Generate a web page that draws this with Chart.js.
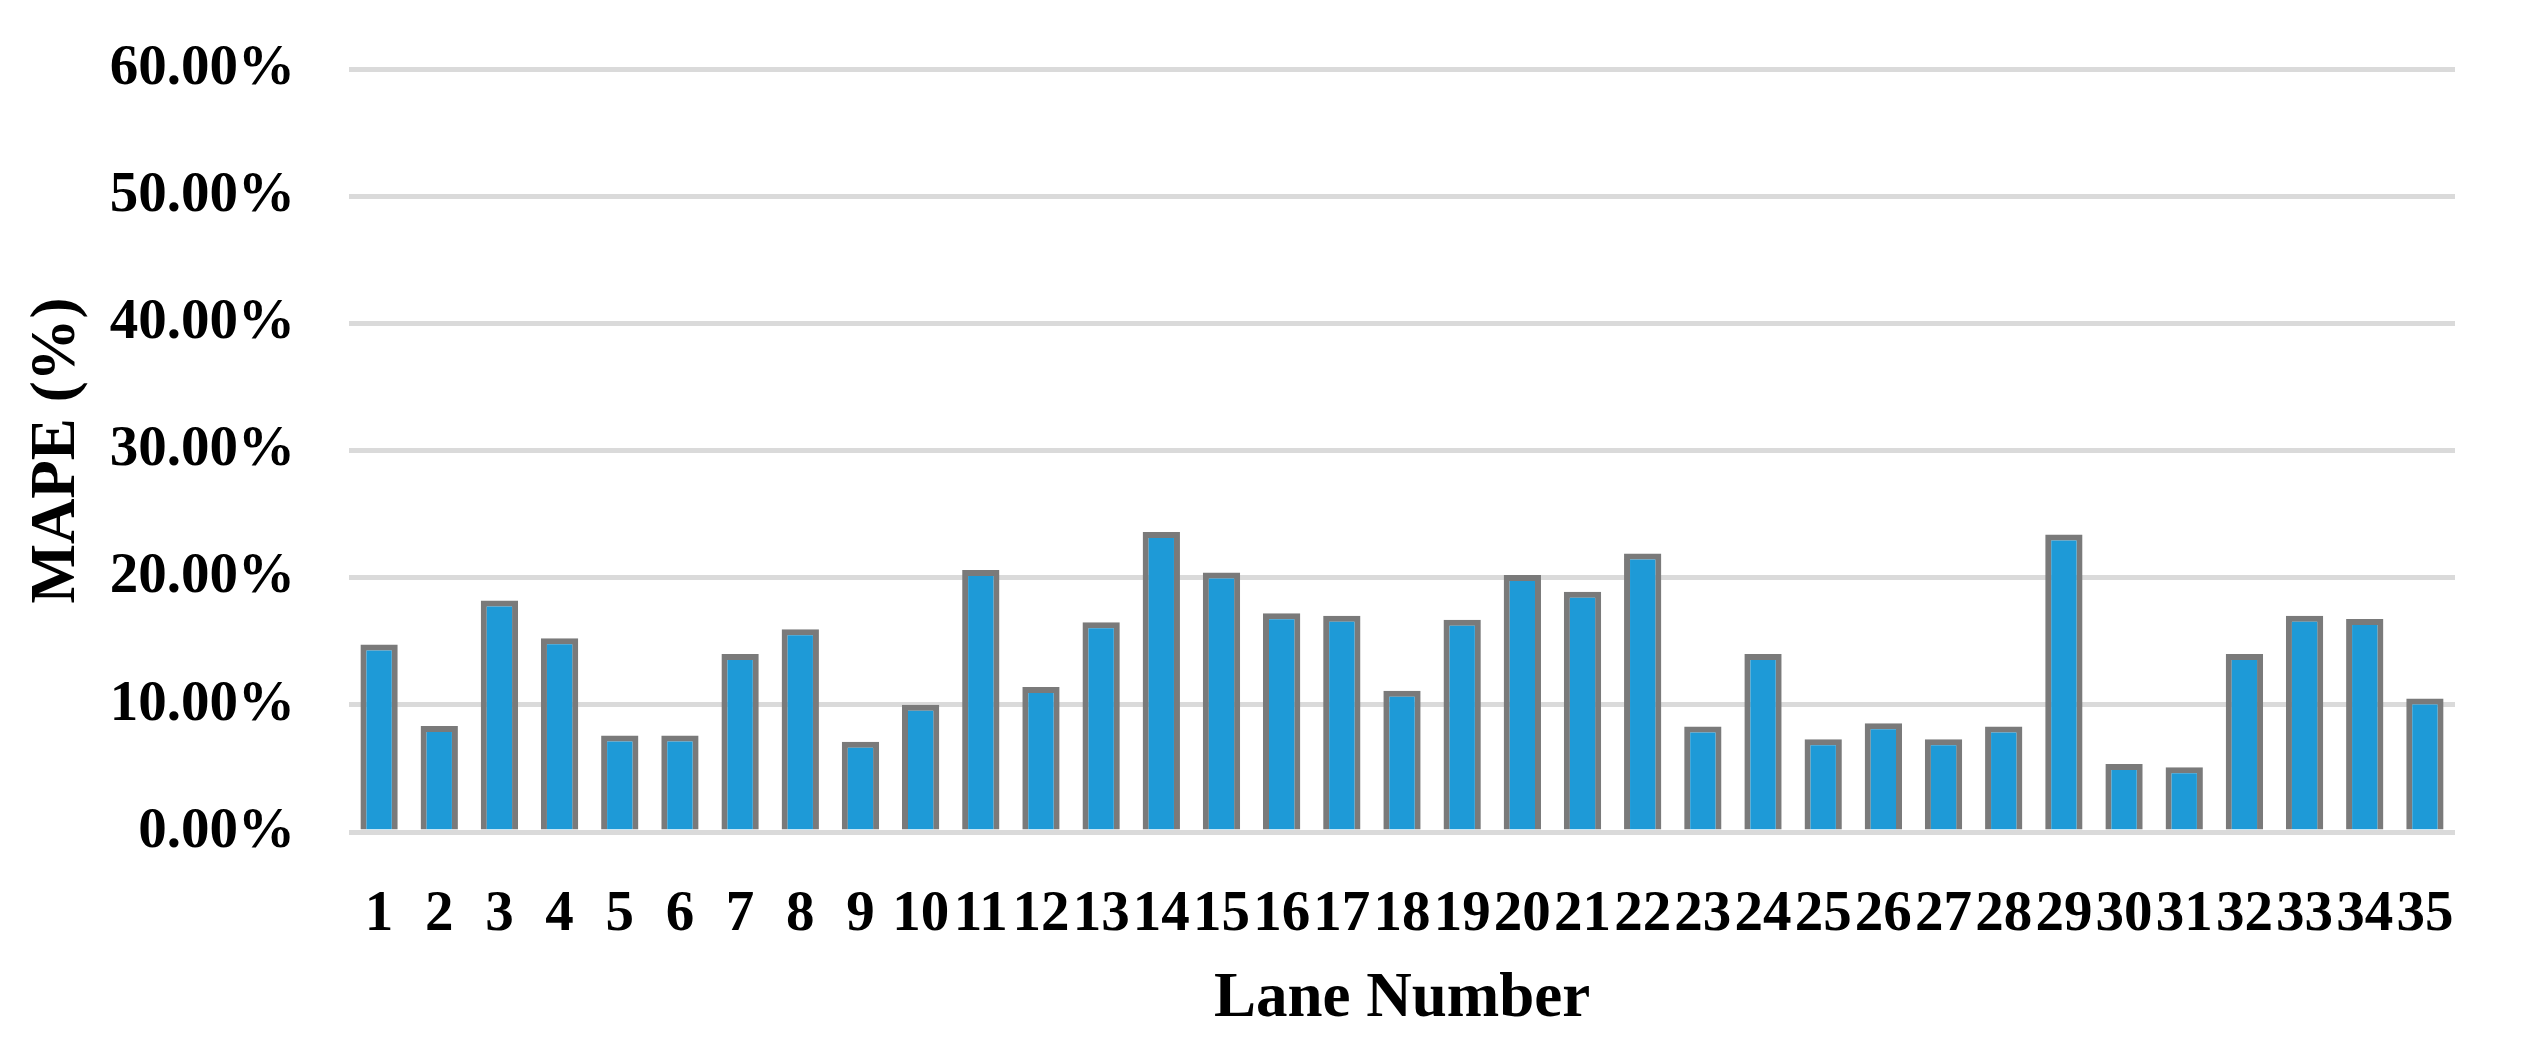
<!DOCTYPE html>
<html>
<head>
<meta charset="utf-8">
<script src="https://cdn.jsdelivr.net/npm/chart.js@4/dist/chart.umd.min.js"></script>
<style>
  html, body { margin: 0; padding: 0; background: #fff; }
  #wrap { width: 2530px; height: 1045px; }
</style>
</head>
<body>
<div id="wrap"><canvas id="chart" width="2530" height="1045"></canvas></div>
<script>
// lane numbers and MAPE per lane (%)
const lanes = ['1','2','3','4','5','6','7','8','9','10','11','12','13','14','15','16','17','18',
               '19','20','21','22','23','24','25','26','27','28','29','30','31','32','33','34','35'];
const mape = [14.74, 8.34, 18.2, 15.24, 7.58, 7.58, 14.0, 15.95, 7.1, 10.0,
              20.6, 11.4, 16.5, 23.6, 20.4, 17.2, 17.0, 11.1, 16.7, 20.2,
              18.9, 21.9, 8.3, 14.0, 7.3, 8.55, 7.3, 8.3, 23.4, 5.35,
              5.1, 14.0, 17.0, 16.75, 10.5];
const yTicks = [0, 10, 20, 30, 40, 50, 60];

const serif = '"Liberation Serif", "Times New Roman", serif';

new Chart(document.getElementById('chart').getContext('2d'), {
  type: 'bar',
  data: {
    labels: lanes,
    datasets: [{
      label: 'MAPE',
      data: mape,
      backgroundColor: '#1e9ad7',
      borderColor: '#7a7a7a',
      borderWidth: 6,
      barPercentage: 0.62,
      categoryPercentage: 1.0
    }]
  },
  options: {
    responsive: false,
    animation: false,
    layout: { padding: { left: 0, right: 75, top: 69, bottom: 0 } },
    plugins: { legend: { display: false }, tooltip: { enabled: false } },
    scales: {
      x: {
        grid: { display: false },
        border: { display: false },
        ticks: {
          autoSkip: false, maxRotation: 0, minRotation: 0,
          padding: 41, color: '#000',
          font: { family: serif, size: 57, weight: 'bold' }
        },
        title: {
          display: true, text: 'Lane Number', color: '#000',
          padding: { top: 0, bottom: 7 },
          font: { family: serif, size: 63, weight: 'bold' }
        },
        afterFit: s => { s.height = 213; }
      },
      y: {
        min: 0, max: 60,
        afterBuildTicks: s => { s.ticks = yTicks.map(v => ({ value: v })); },
        grid: { color: '#dadada', lineWidth: 5, drawTicks: false },
        border: { display: false },
        ticks: {
          padding: 54, color: '#000',
          font: { family: serif, size: 57, weight: 'bold' },
          callback: v => v.toFixed(2) + '%'
        },
        title: {
          display: true, text: 'MAPE (%)', color: '#000',
          padding: { top: 20, bottom: 0 },
          font: { family: serif, size: 63, weight: 'bold' }
        },
        // fixed axis width; top/bottom room comes from layout padding
        afterFit: s => { s.width = 349; s.paddingTop = 0; s.paddingBottom = 0; }
      }
    }
  }
});
</script>
</body>
</html>
